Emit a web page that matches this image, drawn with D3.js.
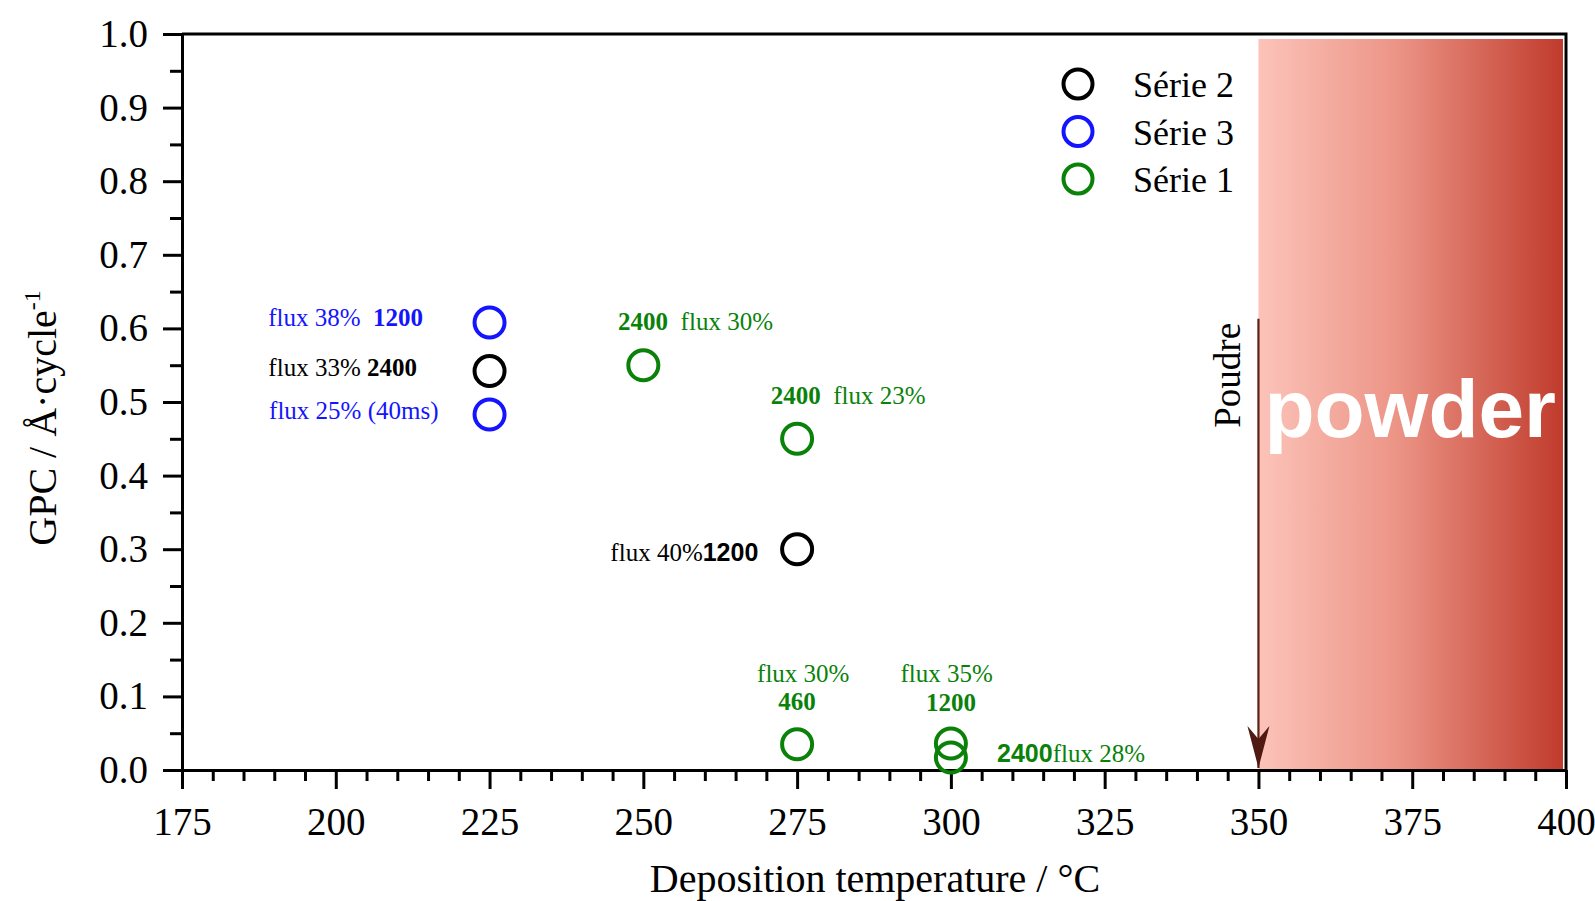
<!DOCTYPE html>
<html>
<head>
<meta charset="utf-8">
<script src="https://cdn.jsdelivr.net/npm/d3@7"></script>
<style>
  body { margin: 0; background: #fff; }
  svg { display: block; }
</style>
</head>
<body>
<div id="chart"></div>
<script>
// ---- data ----
var series_names = ["Série 2", "Série 3", "Série 1"];
var series_colors = ["#000000", "#1414ff", "#0a820a"];

var serie1_temp = [250, 275, 275, 300, 300];
var serie1_gpc  = [0.55, 0.45, 0.035, 0.036, 0.017];
var serie2_temp = [225, 275];
var serie2_gpc  = [0.542, 0.30];
var serie3_temp = [225, 225];
var serie3_gpc  = [0.608, 0.483];

var x_ticks = [175, 200, 225, 250, 275, 300, 325, 350, 375, 400];
var y_ticks = [0.0, 0.1, 0.2, 0.3, 0.4, 0.5, 0.6, 0.7, 0.8, 0.9, 1.0];

var powder_start = 350;

// annotation texts, anchored in data units
var notes = [
  {s: 1, x: 214.2, y: 0.603, anchor: "end",    parts: [["flux 38%  ", 0], ["1200", 1]]},
  {s: 0, x: 213.2, y: 0.535, anchor: "end",    parts: [["flux 33% ", 0], ["2400", 1]]},
  {s: 1, x: 216.7, y: 0.477, anchor: "end",    parts: [["flux 25% (40ms)", 0]]},
  {s: 2, x: 245.9, y: 0.598, anchor: "start",  parts: [["2400", 1], ["  flux 30%", 0]]},
  {s: 2, x: 270.7, y: 0.497, anchor: "start",  parts: [["2400", 1], ["  flux 23%", 0]]},
  {s: 0, x: 268.7, y: 0.284, anchor: "end",    parts: [["flux 40%", 0], ["1200", 2]]},
  {s: 2, x: 276.0, y: 0.120, anchor: "middle", parts: [["flux 30%", 0]]},
  {s: 2, x: 275.0, y: 0.082, anchor: "middle", parts: [["460", 1]]},
  {s: 2, x: 299.3, y: 0.119, anchor: "middle", parts: [["flux 35%", 0]]},
  {s: 2, x: 300.0, y: 0.080, anchor: "middle", parts: [["1200", 1]]},
  {s: 2, x: 307.5, y: 0.011, anchor: "start",  parts: [["2400", 2], ["flux 28%", 0]]}
];

// ---- layout ----
var W = 1595, H = 901;
var m_left = 182, m_right = 1566, m_top = 34, m_bottom = 770;
var serif = "'Liberation Serif', 'Times New Roman', serif";
var sans = "'Liberation Sans', Arial, sans-serif";

var svg = d3.select("#chart").append("svg")
  .attr("width", W).attr("height", H);

var x = d3.scaleLinear().domain([175, 400]).range([m_left, m_right]);
var y = d3.scaleLinear().domain([0, 1]).range([m_bottom, m_top]);

// powder zone gradient
var defs = svg.append("defs");
var grad = defs.append("linearGradient").attr("id", "powder_grad")
  .attr("x1", "0%").attr("x2", "100%").attr("y1", "0%").attr("y2", "0%");
grad.append("stop").attr("offset", "0%").attr("stop-color", "#fcc3b9");
grad.append("stop").attr("offset", "45%").attr("stop-color", "#ec9587");
grad.append("stop").attr("offset", "100%").attr("stop-color", "#c03b2c");

svg.append("rect")
  .attr("x", x(powder_start))
  .attr("y", y(1) + 5)
  .attr("width", x(400) - x(powder_start) - 3)
  .attr("height", y(0) - y(1) - 5)
  .style("fill", "url(#powder_grad)");

svg.append("text")
  .attr("x", x(powder_start) + 6)
  .attr("y", y(0.453))
  .attr("font-family", sans)
  .attr("font-weight", "bold")
  .attr("font-size", 82)
  .attr("fill", "#fff")
  .text("powder");

// arrow "Poudre"
svg.append("line")
  .attr("x1", x(powder_start)).attr("x2", x(powder_start))
  .attr("y1", y(0.613)).attr("y2", y(0) - 2)
  .attr("stroke", "#5a2016").attr("stroke-width", 2.2);

svg.append("path")
  .attr("d", "M" + (x(powder_start) - 11) + "," + (y(0) - 44) +
             " L" + x(powder_start) + "," + (y(0) - 31) +
             " L" + (x(powder_start) + 11) + "," + (y(0) - 44) +
             " L" + x(powder_start) + "," + (y(0) - 2) + " Z")
  .attr("fill", "#4e1a12");

svg.append("text")
  .attr("transform", "translate(" + (x(powder_start) - 18) + "," + y(0.465) + ") rotate(-90)")
  .attr("font-family", serif).attr("font-size", 37).attr("fill", "#000")
  .text("Poudre");

// ---- axes ----
var minor_x = d3.range(175, 401, 5).filter(function(d){ return x_ticks.indexOf(d) < 0; });
var minor_y = [0.05, 0.15, 0.25, 0.35, 0.45, 0.55, 0.65, 0.75, 0.85, 0.95];

svg.append("g").attr("transform", "translate(0," + m_bottom + ")")
  .call(d3.axisBottom(x).tickValues(minor_x).tickSize(11).tickSizeOuter(0).tickFormat(""));
var gx = svg.append("g").attr("transform", "translate(0," + m_bottom + ")");
gx.call(d3.axisBottom(x).tickValues(x_ticks).tickSize(19).tickSizeOuter(0).tickPadding(18)
  .tickFormat(d3.format("d")));

svg.append("g").attr("transform", "translate(" + m_left + ",0)")
  .call(d3.axisLeft(y).tickValues(minor_y).tickSize(12).tickSizeOuter(0).tickFormat(""));
var gy = svg.append("g").attr("transform", "translate(" + m_left + ",0)");
gy.call(d3.axisLeft(y).tickValues(y_ticks).tickSize(19).tickSizeOuter(0).tickPadding(15)
  .tickFormat(d3.format(".1f")));

svg.selectAll(".domain, .tick line").attr("stroke", "#000").attr("stroke-width", 3);
gx.selectAll(".tick text").attr("font-family", serif).attr("font-size", 39).attr("fill", "#000");
gy.selectAll(".tick text").attr("font-family", serif).attr("font-size", 39).attr("fill", "#000");

// top and right border
svg.append("path")
  .attr("d", "M" + m_left + "," + m_top + " H" + m_right + " V" + m_bottom)
  .attr("fill", "none").attr("stroke", "#000").attr("stroke-width", 3);

// axis titles
svg.append("text")
  .attr("x", 875).attr("y", 892)
  .attr("text-anchor", "middle")
  .attr("font-family", serif).attr("font-size", 40)
  .text("Deposition temperature / °C");

var yt = svg.append("text")
  .attr("transform", "translate(56," + 418 + ") rotate(-90)")
  .attr("text-anchor", "middle")
  .attr("font-family", serif).attr("font-size", 40);
yt.append("tspan").text("GPC / Å·cycle");
yt.append("tspan").attr("dy", -16).attr("font-size", 24).text("-1");

// ---- markers ----
var all_series = [
  {name: series_names[2], color: series_colors[2], t: serie1_temp, g: serie1_gpc},
  {name: series_names[0], color: series_colors[0], t: serie2_temp, g: serie2_gpc},
  {name: series_names[1], color: series_colors[1], t: serie3_temp, g: serie3_gpc}
];

all_series.forEach(function(s) {
  svg.append("g").selectAll("circle")
    .data(s.t.map(function(d, i){ return [d, s.g[i]]; }))
    .enter().append("circle")
    .attr("cx", function(d){ return x(d[0]); })
    .attr("cy", function(d){ return y(d[1]); })
    .attr("r", 15)
    .attr("fill", "none")
    .attr("stroke", s.color)
    .attr("stroke-width", 4);
});

// annotations
notes.forEach(function(n) {
  var t = svg.append("text")
    .attr("x", x(n.x)).attr("y", y(n.y))
    .attr("text-anchor", n.anchor)
    .attr("font-size", 25)
    .attr("fill", series_colors[n.s])
    .style("white-space", "pre");
  n.parts.forEach(function(p) {
    t.append("tspan")
      .attr("font-family", p[1] == 2 ? sans : serif)
      .attr("font-weight", p[1] > 0 ? "bold" : "normal")
      .text(p[0]);
  });
});

// ---- legend ----
var legend = svg.append("g");
series_names.forEach(function(name, i) {
  var ly = 84 + i * 47.5;
  legend.append("circle")
    .attr("cx", 1078).attr("cy", ly).attr("r", 14.5)
    .attr("fill", "none").attr("stroke", series_colors[i]).attr("stroke-width", 4);
  legend.append("text")
    .attr("x", 1133).attr("y", ly + 13)
    .attr("font-family", serif).attr("font-size", 36).attr("fill", "#000")
    .text(name);
});
</script>
</body>
</html>
